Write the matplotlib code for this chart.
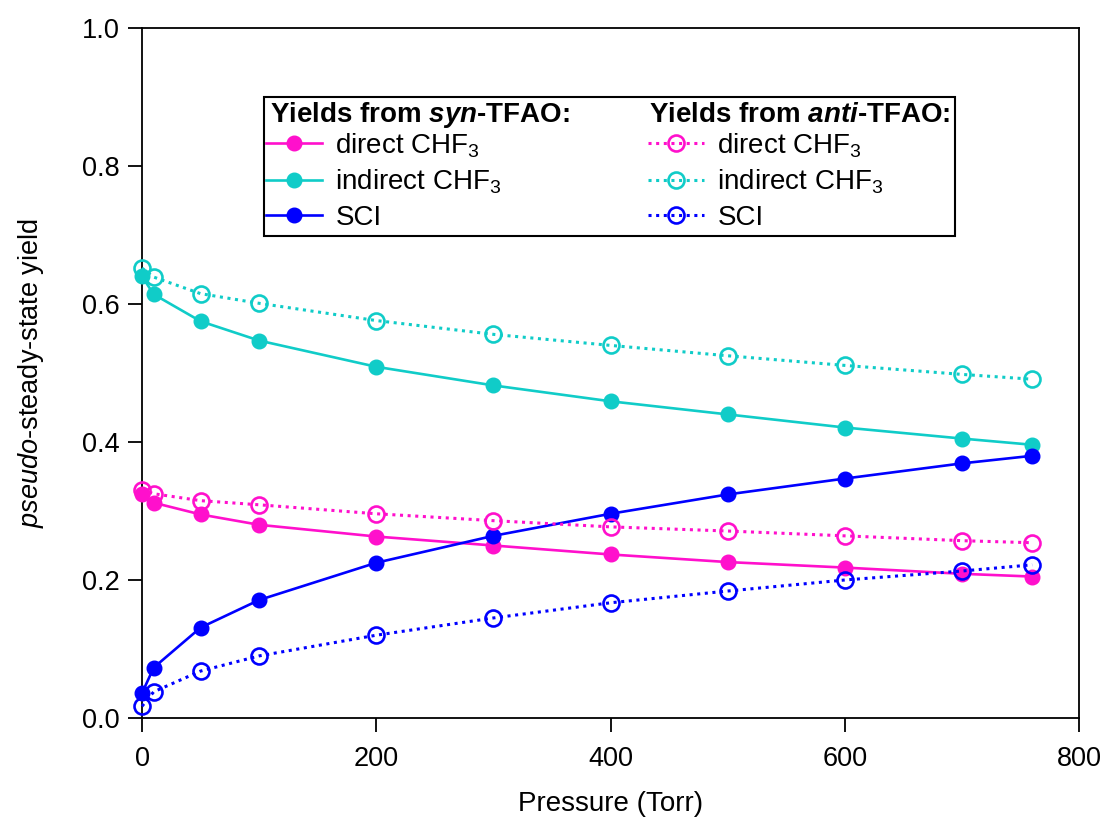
import matplotlib
matplotlib.use('Agg')
import matplotlib.pyplot as plt
from matplotlib.patches import Rectangle

# ---- data ----
pressure = [0, 10, 50, 100, 200, 300, 400, 500, 600, 700, 760]

syn_direct = [0.324, 0.312, 0.295, 0.280, 0.263, 0.250, 0.237, 0.226, 0.218, 0.209, 0.205]
syn_indirect = [0.640, 0.614, 0.575, 0.547, 0.509, 0.482, 0.459, 0.440, 0.421, 0.405, 0.396]
syn_sci = [0.036, 0.073, 0.131, 0.171, 0.225, 0.264, 0.296, 0.324, 0.347, 0.369, 0.380]

anti_direct = [0.331, 0.325, 0.315, 0.309, 0.296, 0.286, 0.277, 0.271, 0.264, 0.257, 0.254]
anti_indirect = [0.652, 0.639, 0.615, 0.601, 0.576, 0.556, 0.540, 0.525, 0.511, 0.498, 0.491]
anti_sci = [0.017, 0.038, 0.068, 0.090, 0.120, 0.145, 0.167, 0.184, 0.200, 0.213, 0.222]

labels = ['direct CHF$_3$', 'indirect CHF$_3$', 'SCI']
title_syn = 'Yields from $\\bfit{syn}$-TFAO:'
title_anti = 'Yields from $\\bfit{anti}$-TFAO:'
x_ticks = [0, 200, 400, 600, 800]
y_ticks = [0.0, 0.2, 0.4, 0.6, 0.8, 1.0]

colors = ['#FF10CC', '#10CCC8', '#0000FF']

plt.rcParams['font.family'] = ['Liberation Sans', 'DejaVu Sans']
plt.rcParams['mathtext.fontset'] = 'custom'
plt.rcParams['mathtext.rm'] = 'Liberation Sans'
plt.rcParams['mathtext.it'] = 'Liberation Sans:italic'
plt.rcParams['mathtext.bf'] = 'Liberation Sans:bold'
plt.rcParams['mathtext.bfit'] = 'Liberation Sans:italic:bold'

FS = 19.5
LFS = 20

fig = plt.figure(figsize=(11.05, 8.18), dpi=100)
ax = fig.add_axes([142/1105, 1 - 718/818, (1079-142)/1105, (718-28)/818])

def ax_x(px):
    return (px - 142) / 937.0

def ax_y(py):
    return (718 - py) / 690.0

syn_series = [syn_direct, syn_indirect, syn_sci]
anti_series = [anti_direct, anti_indirect, anti_sci]

dot = (0, (1.0, 1.5))
h_syn = []
h_anti = []
for vals, c, lab in zip(syn_series, colors, labels):
    h, = ax.plot(pressure, vals, '-', color=c, lw=1.9, marker='o', ms=10.5,
                 mfc=c, mec=c, label=lab, clip_on=False, zorder=3)
    h_syn.append(h)
for vals, c, lab in zip(anti_series, colors, labels):
    h, = ax.plot(pressure, vals, linestyle=dot, color=c, lw=2.2, marker='o', ms=11.5,
                 mfc='none', mec=c, mew=1.9, label=lab, clip_on=False, zorder=3)
    h_anti.append(h)

ax.set_xlim(0, 800)
ax.set_ylim(0, 1.0)
ax.set_xticks(x_ticks)
ax.set_yticks(y_ticks)
ax.set_xticklabels([str(v) for v in x_ticks])
ax.set_yticklabels(['%.1f' % v for v in y_ticks])
ax.tick_params(axis='both', direction='out', length=10, width=1.3, labelsize=FS)
ax.tick_params(axis='x', pad=10)
ax.tick_params(axis='y', pad=6)
for s in ax.spines.values():
    s.set_linewidth(1.3)

ax.set_xlabel('Pressure (Torr)', fontsize=20, labelpad=14)
ax.set_ylabel('$\\it{pseudo}$-steady-state yield', fontsize=FS, labelpad=26)

common = dict(frameon=False, fontsize=LFS, loc='upper left', borderpad=0.0,
              handlelength=2.0, handletextpad=0.5, labelspacing=0.3,
              borderaxespad=0.0)
leg1 = ax.legend(handles=h_syn, bbox_to_anchor=(ax_x(266), ax_y(131)), **common)
ax.add_artist(leg1)
leg2 = ax.legend(handles=h_anti, bbox_to_anchor=(ax_x(648), ax_y(131)), **common)

ax.text(ax_x(270), ax_y(122), title_syn, transform=ax.transAxes, fontsize=LFS,
        fontweight='bold', ha='left', va='baseline')
ax.text(ax_x(649), ax_y(122), title_anti, transform=ax.transAxes, fontsize=LFS,
        fontweight='bold', ha='left', va='baseline')

ax.add_patch(Rectangle((ax_x(264), ax_y(236)), (955-264)/937, (236-97)/690,
                       transform=ax.transAxes, fill=False, ec='black', lw=1.5,
                       zorder=5, clip_on=False))

fig.savefig('out.png', dpi=100)
